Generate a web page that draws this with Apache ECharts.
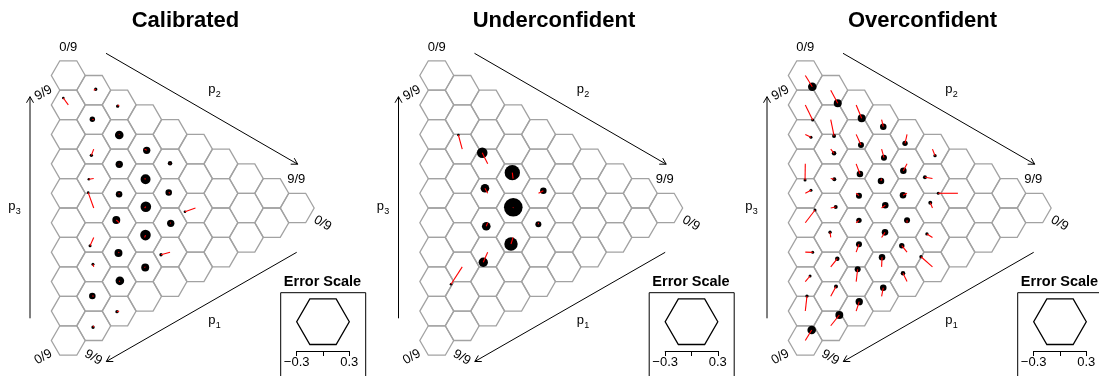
<!DOCTYPE html>
<html>
<head>
<meta charset="utf-8">
<script src="https://cdn.jsdelivr.net/npm/echarts@6/dist/echarts.min.js"></script>
<style>
  html, body { margin: 0; padding: 0; background: #fff; }
  #chart { width: 1099px; height: 376px; }
</style>
</head>
<body>
<div id="chart"></div>
<script>
// Ternary calibration plots. Each hexagon is a forecast cell (p1, p2, p3 in ninths);
// the black dot size shows how many forecasts fell in the cell and the red segment
// runs from the cell centre to the observed outcome (the calibration error).

const panelTitles = ['Calibrated', 'Underconfident', 'Overconfident'];
const endLabels = ['0/9', '9/9'];
const errorTicks = [-0.3, 0, 0.3];
const errorTickLabels = ['\u22120.3', '', '0.3'];

// cells are [p2, p3] in ninths (p1 = 9 - p2 - p3); errors are [horizontal, vertical]
const calibratedCells = [[1,8],[0,8],[2,7],[1,7],[2,6],[3,5],[1,6],[2,5],[4,4],[1,5],[3,4],[4,3],[1,4],[2,4],
  [3,3],[5,2],[2,3],[4,2],[3,2],[1,3],[4,1],[2,2],[1,2],[3,1],[2,1],[1,1],[2,0],[1,0]];
const calibratedCounts = [5,3,5,13,33,24,5,24,9,3,44,19,3,19,50,3,28,24,50,4,5,28,4,28,33,19,5,5];
const calibratedErrors = [[0.023,0.011],[-0.057,0.079],[-0.017,-0.014],[-0.016,0.005],[0.001,-0.007],
  [0.024,-0.014],[-0.027,-0.071],[0.001,-0.006],[0,0.006],[-0.056,-0.008],[0.011,-0.008],[-0.015,0.009],
  [-0.063,0.175],[-0.001,-0.011],[0.014,0.015],[-0.120,-0.042],[-0.033,0.031],[0.008,-0.007],[0.010,0.027],
  [-0.042,-0.094],[-0.103,-0.029],[-0.008,-0.009],[-0.009,0.030],[0.007,-0.007],[0.008,0.009],
  [-0.016,0.005],[-0.025,-0.007],[-0.008,-0.017]];

const underconfidentCells = [[1,6],[2,5],[3,4],[2,4],[4,3],[3,3],[2,3],[4,2],[3,2],[2,2],[1,2]];
const underconfidentCounts = [3,50,105,33,19,154,33,16,80,39,3];
const underconfidentErrors = [[-0.044,0.161],[-0.062,0.127],[-0.009,0.067],[-0.031,0.057],[0.055,0.030],
  [0.002,0.008],[-0.016,-0.041],[-0.002,-0.018],[-0.024,-0.075],[-0.050,-0.115],[-0.128,-0.198]];

const overconfidentCells = [[0,9],[1,8],[2,7],[3,6],[0,8],[1,7],[0,7],[2,6],[4,5],[1,6],[3,5],[5,4],[0,6],
  [1,5],[2,5],[3,4],[4,4],[5,3],[6,2],[0,5],[1,4],[2,4],[3,3],[4,3],[5,2],[0,4],[2,3],[4,2],[1,3],[3,2],
  [5,1],[0,3],[2,2],[4,1],[5,0],[1,2],[3,1],[0,2],[2,1],[4,0],[1,1],[3,0],[0,1],[2,0],[1,0],[0,0]];
const overconfidentCounts = [33,28,28,19,4,7,4,16,13,9,16,5,4,7,19,19,19,7,4,4,7,16,19,19,7,4,13,16,5,19,
  5,4,16,13,5,9,19,4,16,9,7,19,5,24,28,33];
const overconfidentErrors = [[0.080,-0.128],[0.080,-0.148],[0.063,-0.152],[0.019,-0.080],[0.084,-0.172],
  [0.038,-0.186],[0.065,-0.033],[0.055,-0.121],[-0.023,-0.102],[0.038,-0.048],[0.027,-0.098],[0.029,-0.075],
  [-0.003,-0.185],[0.041,-0.008],[0.043,-0.116],[-0.007,-0.027],[-0.042,-0.079],[-0.086,0.015],[-0.224,0],
  [0.065,0.034],[0.057,0.011],[0.032,-0.027],[0.042,0.031],[-0.046,-0.023],[-0.025,0.060],[0.111,0.145],
  [0.032,0.027],[0,0.027],[-0.008,0.059],[0.039,0.058],[-0.063,0.040],[0.084,-0.002],[0.032,0.090],
  [-0.060,0.074],[-0.131,0.116],[0.075,0.094],[0.005,0.110],[0.054,0.064],[0.017,0.140],[-0.046,0.095],
  [0.060,0.111],[0.019,0.098],[0.019,0.171],[0.035,0.107],[0.098,0.123],[0.073,0.120]];

const panels = [
  { cells: calibratedCells, counts: calibratedCounts, errors: calibratedErrors },
  { cells: underconfidentCells, counts: underconfidentCounts, errors: underconfidentErrors },
  { cells: overconfidentCells, counts: overconfidentCounts, errors: overconfidentErrors }
];

// ---- layout ----
const FONT = '"Liberation Sans", Arial, Helvetica, sans-serif';
const OFFSETS = [0, 368.5, 737];
const LEGEND_W = 52.6;                       // width of the -0.3 .. 0.3 error axis
const ERR_PX = LEGEND_W / (errorTicks[2] - errorTicks[0]);
const DOT_SCALE = 0.75;
const HEX_STROKE = '#a2a2a2';

// ternary lattice: column = p2, vertical position = p3 + p2/2
const lattice = [];
for (let j = 0; j <= 9; j++) {
  for (let k = 0; k <= 9 - j; k++) lattice.push([j, k + j / 2]);
}

function hexPoints(cx, cy, r, h) {
  return [[cx + r, cy], [cx + r / 2, cy - h / 2], [cx - r / 2, cy - h / 2],
          [cx - r, cy], [cx - r / 2, cy + h / 2], [cx + r / 2, cy + h / 2]];
}

const grids = [], xAxes = [], yAxes = [], series = [], graphics = [];

function text(x, y, str, size, opts) {
  opts = opts || {};
  graphics.push({
    type: 'text', x: x, y: y, rotation: opts.rot || 0, silent: true, z: 10,
    style: {
      text: str, fill: '#000', fontSize: size, fontFamily: FONT,
      fontWeight: opts.bold ? 'bold' : 'normal',
      align: opts.align || 'center', verticalAlign: 'middle'
    }
  });
}

function arrow(x1, y1, x2, y2) {
  const ang = Math.atan2(y2 - y1, x2 - x1), L = 7, a = Math.PI / 6;
  graphics.push({ type: 'line', silent: true, z: 10,
    shape: { x1: x1, y1: y1, x2: x2, y2: y2 }, style: { stroke: '#000', lineWidth: 1 } });
  graphics.push({ type: 'polyline', silent: true, z: 10,
    shape: { points: [
      [x2 - L * Math.cos(ang - a), y2 - L * Math.sin(ang - a)],
      [x2, y2],
      [x2 - L * Math.cos(ang + a), y2 - L * Math.sin(ang + a)]
    ] },
    style: { stroke: '#000', lineWidth: 1, fill: 'none' } });
}

function pLabel(x, y, sub) {
  text(x, y, 'p', 13, { align: 'left' });
  text(x + 7.5, y + 5, sub, 9, { align: 'left' });
}

panels.forEach(function (panel, i) {
  const off = OFFSETS[i];
  const gMain = i * 2, gLeg = i * 2 + 1;

  grids.push({ left: 68.3 + off, top: 75.5, width: 228.9, height: 265,
               containLabel: false, outerBoundsMode: 'none' });
  grids.push({ left: 296.7 + off, top: 292.4, width: LEGEND_W, height: 58.6,
               containLabel: false, outerBoundsMode: 'none' });

  xAxes.push({ gridIndex: gMain, type: 'value', min: 0, max: 9, show: false });
  yAxes.push({ gridIndex: gMain, type: 'value', min: 0, max: 9, show: false });

  xAxes.push({
    gridIndex: gLeg, type: 'value', position: 'bottom',
    min: errorTicks[0], max: errorTicks[2], interval: errorTicks[2],
    axisLine: { show: true, onZero: false, lineStyle: { color: '#000', width: 1 } },
    axisTick: { show: true, length: 5, lineStyle: { color: '#000', width: 1 } },
    splitLine: { show: false },
    axisLabel: {
      show: true, margin: 5, color: '#000', fontSize: 13, fontFamily: FONT,
      showMinLabel: true, showMaxLabel: true,
      formatter: function (v) {
        for (let t = 0; t < errorTicks.length; t++) {
          if (Math.abs(errorTicks[t] - v) < 1e-6) return errorTickLabels[t];
        }
        return '';
      }
    }
  });
  yAxes.push({ gridIndex: gLeg, type: 'value', min: 0, max: 1, show: false });

  // hexagon outlines for every cell of the lattice
  series.push({
    type: 'custom', coordinateSystem: 'cartesian2d', xAxisIndex: gMain, yAxisIndex: gMain,
    silent: true, animation: false, clip: false, z: 1,
    data: lattice,
    renderItem: function (params, api) {
      const c = api.coord([api.value(0), api.value(1)]);
      const sx = api.size([1, 0])[0], sy = api.size([0, 1])[1];
      return { type: 'polygon', shape: { points: hexPoints(c[0], c[1], sx / 1.5, sy) },
               style: { fill: 'none', stroke: HEX_STROKE, lineWidth: 1.3 } };
    }
  });

  const cellData = panel.cells.map(function (c, n) {
    return [c[0], c[1] + c[0] / 2, panel.counts[n], panel.errors[n][0], panel.errors[n][1]];
  });

  // dots: placed at cell centre + error, sized by count
  series.push({
    type: 'custom', coordinateSystem: 'cartesian2d', xAxisIndex: gMain, yAxisIndex: gMain,
    silent: true, animation: false, clip: false, z: 2,
    data: cellData,
    renderItem: function (params, api) {
      const c = api.coord([api.value(0), api.value(1)]);
      return { type: 'circle',
               shape: { cx: c[0] + api.value(3) * ERR_PX, cy: c[1] - api.value(4) * ERR_PX,
                        r: DOT_SCALE * Math.sqrt(api.value(2)) },
               style: { fill: '#000' } };
    }
  });

  // red error segments from the cell centre
  series.push({
    type: 'custom', coordinateSystem: 'cartesian2d', xAxisIndex: gMain, yAxisIndex: gMain,
    silent: true, animation: false, clip: false, z: 3,
    data: cellData,
    renderItem: function (params, api) {
      const c = api.coord([api.value(0), api.value(1)]);
      return { type: 'line',
               shape: { x1: c[0], y1: c[1],
                        x2: c[0] + api.value(3) * ERR_PX, y2: c[1] - api.value(4) * ERR_PX },
               style: { stroke: '#ff0000', lineWidth: 1.1 } };
    }
  });

  // error scale hexagon (radius = 0.3)
  series.push({
    type: 'custom', coordinateSystem: 'cartesian2d', xAxisIndex: gLeg, yAxisIndex: gLeg,
    silent: true, animation: false, clip: false, z: 2,
    data: [[0, 0.5]],
    renderItem: function (params, api) {
      const c = api.coord([api.value(0), api.value(1)]);
      const r = api.coord([errorTicks[2], api.value(1)])[0] - c[0];
      return { type: 'polygon', shape: { points: hexPoints(c[0], c[1], r, r * Math.sqrt(3)) },
               style: { fill: 'none', stroke: '#000', lineWidth: 1.3 } };
    }
  });

  // titles, axis end labels and arrows
  text(185.5 + off, 21, panelTitles[i], 22, { bold: true });
  text(68.3 + off, 47.3, endLabels[0], 13);
  text(43.5 + off, 93, endLabels[1], 13, { rot: Math.PI / 6 });
  text(43.3 + off, 357, endLabels[0], 13, { rot: Math.PI / 6 });
  text(93.3 + off, 357.5, endLabels[1], 13, { rot: -Math.PI / 6 });
  text(296.3 + off, 179.7, endLabels[1], 13);
  text(322.5 + off, 223.3, endLabels[0], 13, { rot: -Math.PI / 6 });

  arrow(30 + off, 318.3, 30 + off, 96.7);
  arrow(106 + off, 53.3, 297.7 + off, 164.2);
  arrow(296.7 + off, 252.3, 106.3 + off, 361.5);

  pLabel(208.3 + off, 89.5, '2');
  pLabel(208.3 + off, 320.5, '1');
  pLabel(8.3 + off, 206.2, '3');

  // error scale box
  text(322.5 + off, 282, 'Error Scale', 14.5, { bold: true });
  graphics.push({ type: 'rect', silent: true, z: 10,
    shape: { x: 280.7 + off, y: 292.7, width: 85, height: 110 },
    style: { fill: 'none', stroke: '#000', lineWidth: 1 } });
});

const chart = echarts.init(document.getElementById('chart'), null, { renderer: 'canvas' });
chart.setOption({
  backgroundColor: '#fff',
  animation: false,
  grid: grids,
  xAxis: xAxes,
  yAxis: yAxes,
  series: series,
  graphic: graphics
});
</script>
</body>
</html>
